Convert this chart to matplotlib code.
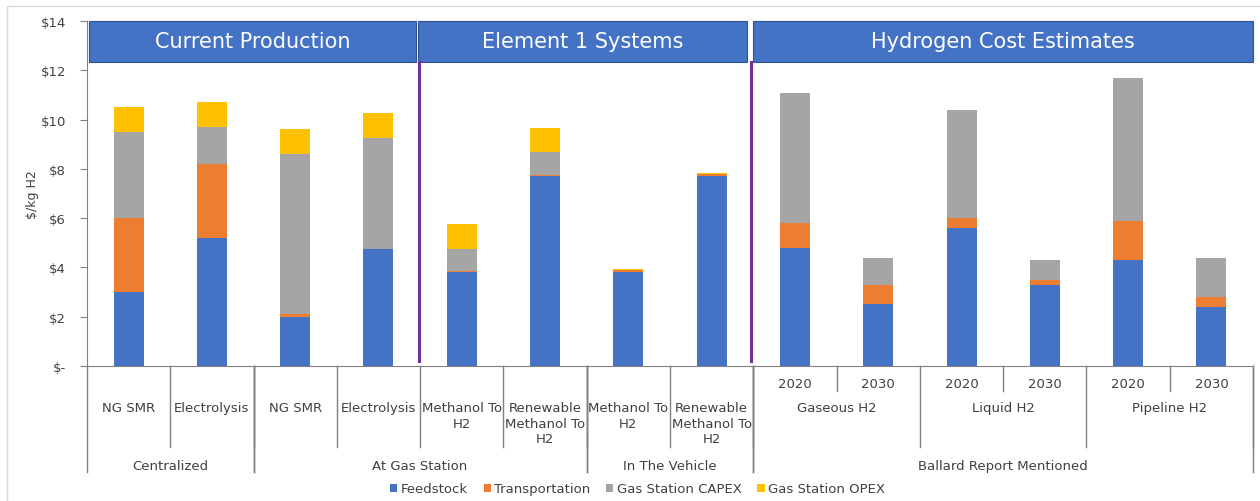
import matplotlib.pyplot as plt
from matplotlib.patches import Rectangle, Patch

plt.rcParams['font.family'] = ['DejaVu Sans']

# cost components per option ($/kg H2)
feedstock      = [3.0, 5.2, 2.0, 4.75, 3.8, 7.7, 3.8, 7.7, 4.8, 2.5, 5.6, 3.3, 4.3, 2.4]
transportation = [3.0, 3.0, 0.1, 0.0, 0.05, 0.07, 0.1, 0.1, 1.0, 0.8, 0.4, 0.2, 1.6, 0.4]
capex          = [3.5, 1.5, 6.5, 4.5, 0.9, 0.9, 0.0, 0.0, 5.3, 1.1, 4.4, 0.8, 5.8, 1.6]
opex           = [1.0, 1.0, 1.0, 1.0, 1.0, 1.0, 0.05, 0.05, 0.0, 0.0, 0.0, 0.0, 0.0, 0.0]

series_names = ["Feedstock", "Transportation", "Gas Station CAPEX", "Gas Station OPEX"]
colors = ["#4472C4", "#ED7D31", "#A5A5A5", "#FFC000"]

# axis labels: innermost (years), middle, outer groups
years = ["", "", "", "", "", "", "", "", "2020", "2030", "2020", "2030", "2020", "2030"]
methods = [("NG SMR", 0, 0), ("Electrolysis", 1, 1), ("NG SMR", 2, 2), ("Electrolysis", 3, 3),
           ("Methanol To\nH2", 4, 4), ("Renewable\nMethanol To\nH2", 5, 5),
           ("Methanol To\nH2", 6, 6), ("Renewable\nMethanol To\nH2", 7, 7),
           ("Gaseous H2", 8, 9), ("Liquid H2", 10, 11), ("Pipeline H2", 12, 13)]
groups = [("Centralized", 0, 1), ("At Gas Station", 2, 5), ("In The Vehicle", 6, 7),
          ("Ballard Report Mentioned", 8, 13)]
sections = [("Current Production", -0.48, 3.45), ("Element 1 Systems", 3.48, 7.43),
            ("Hydrogen Cost Estimates", 7.5, 13.5)]

fig = plt.figure(figsize=(12.6, 5.02), dpi=100)
ax = fig.add_axes([0.069, 0.269, 0.9255, 0.687])

x = list(range(len(feedstock)))
bottom = [0.0] * len(x)
for vals, name, c in zip([feedstock, transportation, capex, opex], series_names, colors):
    ax.bar(x, vals, 0.36, bottom=bottom, color=c, label=name, zorder=2)
    bottom = [b + v for b, v in zip(bottom, vals)]

ax.set_xlim(-0.5, 13.5)
ax.set_ylim(0, 14)
ax.set_yticks(range(0, 15, 2))
ax.set_yticklabels(["$-"] + [f"${v}" for v in range(2, 15, 2)], fontsize=9.5, color="#404040")
ax.tick_params(axis="y", length=5, pad=10, color="#808080")
ax.set_xticks([])
ax.set_ylabel("$/kg H2", fontsize=9, color="#404040", labelpad=1)
for s in ["top", "right"]:
    ax.spines[s].set_visible(False)
ax.spines["left"].set_color("#808080")
ax.spines["bottom"].set_color("#808080")

# section header boxes
for title, x0, x1 in sections:
    ax.add_patch(Rectangle((x0, 12.35), x1 - x0, 1.65, facecolor="#4472C4",
                           edgecolor="#2F528F", linewidth=0.8, zorder=3, clip_on=False))
    ax.text((x0 + x1) / 2, 13.2, title, color="white", fontsize=15,
            ha="center", va="center", zorder=4)

# purple dividers between sections
for xv in [3.49, 7.47]:
    ax.plot([xv, xv], [0.22, 12.35], color="#7030A0", linewidth=2.2, zorder=3)

# multi-level category axis
tr = ax.get_xaxis_transform()
line_kw = dict(color="#7F7F7F", linewidth=1.0, clip_on=False, transform=tr)
for i, y in enumerate(years):
    if y:
        ax.text(i, -0.05, y, ha="center", va="center", fontsize=9.5, color="#404040", transform=tr)
for xv in [8.5, 10.5, 12.5]:
    ax.plot([xv, xv], [0, -0.073], **line_kw)
for label, a, b in methods:
    ax.text((a + b) / 2, -0.102, label, ha="center", va="top", fontsize=9.5,
            color="#404040", transform=tr, linespacing=1.25)
    ax.plot([b + 0.5, b + 0.5], [0, -0.235], **line_kw)
for label, a, b in groups:
    ax.text((a + b) / 2, -0.288, label, ha="center", va="center", fontsize=9.5,
            color="#404040", transform=tr)
    ax.plot([a - 0.5, a - 0.5], [0, -0.307], **line_kw)
    ax.plot([b + 0.5, b + 0.5], [0, -0.307], **line_kw)

handles = [Patch(facecolor=c, label=n) for c, n in zip(colors, series_names)]
fig.legend(handles=handles, loc="center", bbox_to_anchor=(0.506, 0.024), ncol=4,
           frameon=False, fontsize=9.5, handlelength=0.55, handleheight=0.55,
           handletextpad=0.25, columnspacing=1.2, labelcolor="#404040")

# light chart border
fig.add_artist(Rectangle((0.0055, -0.01), 0.998, 0.9965, transform=fig.transFigure,
                         fill=False, edgecolor="#D9D9D9", linewidth=1.0))

fig.savefig("out.png", dpi=100)
